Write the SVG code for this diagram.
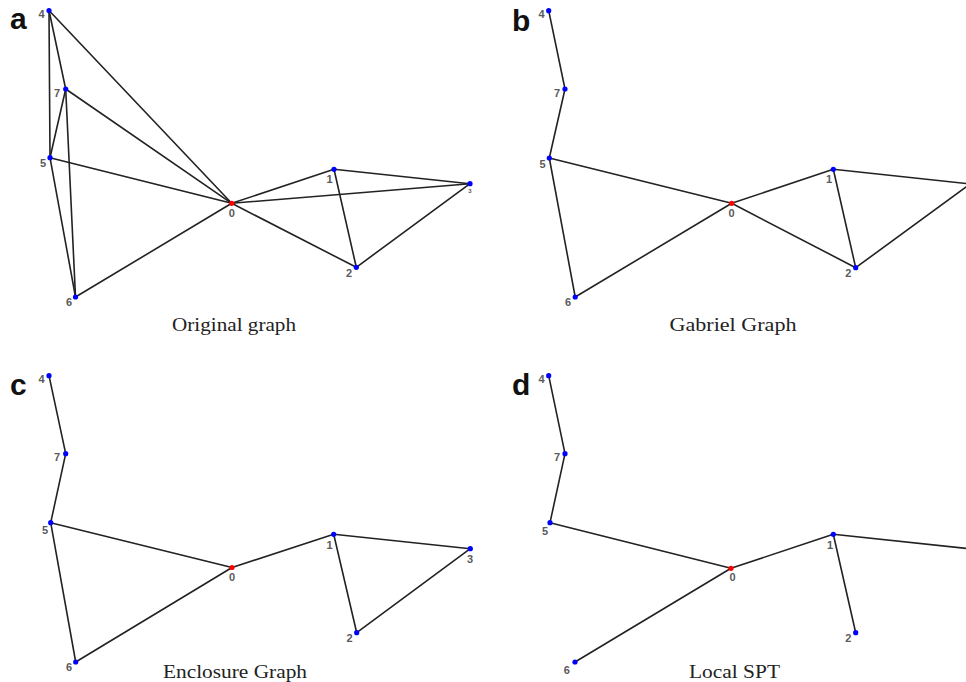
<svg xmlns="http://www.w3.org/2000/svg" width="966" height="682" viewBox="0 0 966 682">
<style>
.e{stroke:#222;stroke-width:1.6;fill:none;stroke-linecap:round}
.n{fill:#0000ff}
.r{fill:#ff0000}
.l{font-family:"Liberation Sans",Arial,sans-serif;font-size:11px;font-weight:bold;fill:#5a5a5a;text-anchor:middle}
.p{font-family:"Liberation Sans",Arial,sans-serif;font-size:30px;font-weight:bold;fill:#111}
.c{font-family:"Liberation Serif","Times New Roman",serif;font-size:19.5px;fill:#222;text-anchor:middle}
</style>
<rect width="966" height="682" fill="#fff"/>
<!-- Panel a -->
<g id="a-edges">
<line class="e" x1="49" y1="10.5" x2="50" y2="157.7"/>
<line class="e" x1="49" y1="10.5" x2="65.7" y2="89"/>
<line class="e" x1="49" y1="10.5" x2="231.7" y2="203.3"/>
<line class="e" x1="65.7" y1="89" x2="50" y2="157.7"/>
<line class="e" x1="65.7" y1="89" x2="75.5" y2="297"/>
<line class="e" x1="65.7" y1="89" x2="231.7" y2="203.3"/>
<line class="e" x1="50" y1="157.7" x2="75.5" y2="297"/>
<line class="e" x1="50" y1="157.7" x2="231.7" y2="203.3"/>
<line class="e" x1="75.5" y1="297" x2="231.7" y2="203.3"/>
<line class="e" x1="231.7" y1="203.3" x2="334" y2="169.3"/>
<line class="e" x1="231.7" y1="203.3" x2="470" y2="183.7"/>
<line class="e" x1="231.7" y1="203.3" x2="356.3" y2="267.3"/>
<line class="e" x1="334" y1="169.3" x2="470" y2="183.7"/>
<line class="e" x1="334" y1="169.3" x2="356.3" y2="267.3"/>
<line class="e" x1="356.3" y1="267.3" x2="470" y2="183.7"/>
</g>
<g id="a-n4"><circle class="n" cx="49" cy="10.5" r="2.6"/><text class="l" x="41.5" y="18">4</text></g>
<g id="a-n7"><circle class="n" cx="65.7" cy="89" r="2.6"/><text class="l" x="57" y="97">7</text></g>
<g id="a-n5"><circle class="n" cx="50" cy="157.7" r="2.6"/><text class="l" x="43" y="167">5</text></g>
<g id="a-n6"><circle class="n" cx="75.5" cy="297" r="2.6"/><text class="l" x="69" y="306">6</text></g>
<g id="a-n0"><circle class="r" cx="231.7" cy="203.3" r="2.6"/><text class="l" x="231.7" y="216.5">0</text></g>
<g id="a-n1"><circle class="n" cx="334" cy="169.3" r="2.6"/><text class="l" x="329.5" y="183">1</text></g>
<g id="a-n2"><circle class="n" cx="356.3" cy="267.3" r="2.6"/><text class="l" x="349" y="277">2</text></g>
<g id="a-n3"><circle class="n" cx="470" cy="183.7" r="2.6"/><text class="l" x="470" y="192.5" style="font-size:6px">3</text></g>
<text class="p" x="10" y="29">a</text>
<text class="c" x="234" y="331" textLength="124" lengthAdjust="spacingAndGlyphs">Original graph</text>
<!-- Panel b -->
<g id="b-edges">
<line class="e" x1="548.7" y1="10.7" x2="565" y2="89"/>
<line class="e" x1="565" y1="89" x2="549.3" y2="158"/>
<line class="e" x1="549.3" y1="158" x2="731.7" y2="203.3"/>
<line class="e" x1="549.3" y1="158" x2="575.2" y2="297"/>
<line class="e" x1="575.2" y1="297" x2="731.7" y2="203.3"/>
<line class="e" x1="731.7" y1="203.3" x2="833.3" y2="169.3"/>
<line class="e" x1="731.7" y1="203.3" x2="855.7" y2="267.7"/>
<line class="e" x1="833.3" y1="169.3" x2="855.7" y2="267.7"/>
<line class="e" x1="833.3" y1="169.3" x2="970" y2="184"/>
<line class="e" x1="855.7" y1="267.7" x2="970" y2="184"/>
</g>
<g id="b-n4"><circle class="n" cx="548.7" cy="10.7" r="2.6"/><text class="l" x="541.5" y="18">4</text></g>
<g id="b-n7"><circle class="n" cx="565" cy="89" r="2.6"/><text class="l" x="557" y="97">7</text></g>
<g id="b-n5"><circle class="n" cx="549.3" cy="158" r="2.6"/><text class="l" x="542.5" y="168">5</text></g>
<g id="b-n6"><circle class="n" cx="575.2" cy="297" r="2.6"/><text class="l" x="568" y="306">6</text></g>
<g id="b-n0"><circle class="r" cx="731.7" cy="203.3" r="2.6"/><text class="l" x="731.5" y="216.5">0</text></g>
<g id="b-n1"><circle class="n" cx="833.3" cy="169.3" r="2.6"/><text class="l" x="829" y="183">1</text></g>
<g id="b-n2"><circle class="n" cx="855.7" cy="267.7" r="2.6"/><text class="l" x="848.3" y="277">2</text></g>
<text class="p" x="512" y="30.5">b</text>
<text class="c" x="733" y="331" textLength="127" lengthAdjust="spacingAndGlyphs">Gabriel Graph</text>
<!-- Panel c -->
<g id="c-edges">
<line class="e" x1="49" y1="375.7" x2="65.7" y2="453.7"/>
<line class="e" x1="65.7" y1="453.7" x2="50.7" y2="522.7"/>
<line class="e" x1="50.7" y1="522.7" x2="232" y2="567.5"/>
<line class="e" x1="50.7" y1="522.7" x2="75.7" y2="662"/>
<line class="e" x1="75.7" y1="662" x2="232" y2="567.5"/>
<line class="e" x1="232" y1="567.5" x2="333.7" y2="534.3"/>
<line class="e" x1="333.7" y1="534.3" x2="470.3" y2="548.7"/>
<line class="e" x1="333.7" y1="534.3" x2="356.7" y2="632.7"/>
<line class="e" x1="356.7" y1="632.7" x2="470.3" y2="548.7"/>
</g>
<g id="c-n4"><circle class="n" cx="49" cy="375.7" r="2.6"/><text class="l" x="41.5" y="383">4</text></g>
<g id="c-n7"><circle class="n" cx="65.7" cy="453.7" r="2.6"/><text class="l" x="57" y="461">7</text></g>
<g id="c-n5"><circle class="n" cx="50.7" cy="522.7" r="2.6"/><text class="l" x="45" y="534">5</text></g>
<g id="c-n6"><circle class="n" cx="75.7" cy="662" r="2.6"/><text class="l" x="69" y="670.5">6</text></g>
<g id="c-n0"><circle class="r" cx="232" cy="567.5" r="2.6"/><text class="l" x="232" y="581">0</text></g>
<g id="c-n1"><circle class="n" cx="333.7" cy="534.3" r="2.6"/><text class="l" x="329.5" y="548.5">1</text></g>
<g id="c-n2"><circle class="n" cx="356.7" cy="632.7" r="2.6"/><text class="l" x="349.5" y="641.5">2</text></g>
<g id="c-n3"><circle class="n" cx="470.3" cy="548.7" r="2.6"/><text class="l" x="470" y="563">3</text></g>
<text class="p" x="10" y="394.5">c</text>
<text class="c" x="235" y="678" textLength="144" lengthAdjust="spacingAndGlyphs">Enclosure Graph</text>
<!-- Panel d -->
<g id="d-edges">
<line class="e" x1="548.7" y1="375.7" x2="565" y2="453.7"/>
<line class="e" x1="565" y1="453.7" x2="550" y2="522.7"/>
<line class="e" x1="550" y1="522.7" x2="731" y2="568.3"/>
<line class="e" x1="575" y1="662" x2="731" y2="568.3"/>
<line class="e" x1="731" y1="568.3" x2="833.3" y2="534.3"/>
<line class="e" x1="833.3" y1="534.3" x2="855.7" y2="632.7"/>
<line class="e" x1="833.3" y1="534.3" x2="970" y2="548.8"/>
</g>
<g id="d-n4"><circle class="n" cx="548.7" cy="375.7" r="2.6"/><text class="l" x="541.5" y="383">4</text></g>
<g id="d-n7"><circle class="n" cx="565" cy="453.7" r="2.6"/><text class="l" x="557" y="461">7</text></g>
<g id="d-n5"><circle class="n" cx="550" cy="522.7" r="2.6"/><text class="l" x="545" y="535">5</text></g>
<g id="d-n6"><circle class="n" cx="575" cy="662" r="2.6"/><text class="l" x="566.7" y="674">6</text></g>
<g id="d-n0"><circle class="r" cx="731" cy="568.3" r="2.6"/><text class="l" x="732.5" y="581">0</text></g>
<g id="d-n1"><circle class="n" cx="833.3" cy="534.3" r="2.6"/><text class="l" x="830" y="549">1</text></g>
<g id="d-n2"><circle class="n" cx="855.7" cy="632.7" r="2.6"/><text class="l" x="848.3" y="641.5">2</text></g>
<text class="p" x="512" y="394.5">d</text>
<text class="c" x="734.5" y="678" textLength="91" lengthAdjust="spacingAndGlyphs">Local SPT</text>
</svg>
